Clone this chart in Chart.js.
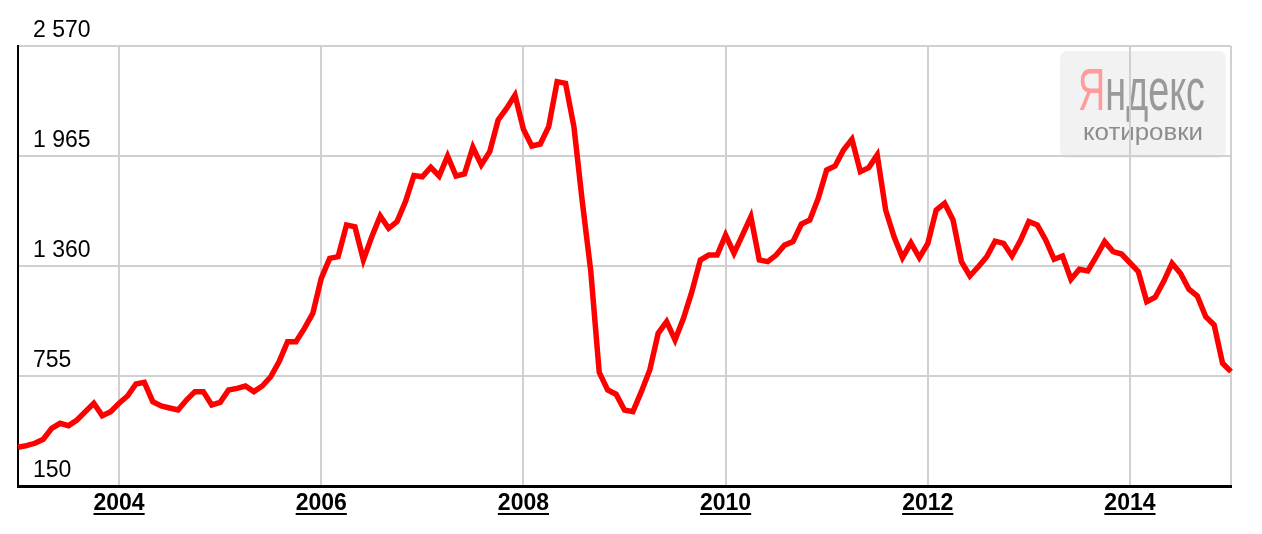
<!DOCTYPE html>
<html>
<head>
<meta charset="utf-8">
<script src="https://cdn.jsdelivr.net/npm/chart.js@4.4.0/dist/chart.umd.min.js"></script>
<style>
  body { margin: 0; background: #fff; }
  #wrap { width: 1262px; height: 534px; }
</style>
</head>
<body>
<div id="wrap"><canvas id="chart"></canvas></div>
<script>
// monthly values, Jan 2003 .. Jan 2015
const years = [2003, 2004, 2005, 2006, 2007, 2008, 2009, 2010, 2011, 2012, 2013, 2014, 2015];
const months = ['01', '02', '03', '04', '05', '06', '07', '08', '09', '10', '11', '12'];

const v2003 = [363, 372, 385, 407, 467, 495, 482, 513, 559, 605, 537, 559];
const v2004 = [605, 645, 711, 720, 614, 590, 579, 568, 623, 669, 669, 596];
const v2005 = [610, 678, 687, 700, 669, 700, 751, 834, 944, 944, 1017, 1100];
const v2006 = [1292, 1402, 1411, 1586, 1576, 1393, 1521, 1635, 1567, 1604, 1714, 1857];
const v2007 = [1851, 1903, 1855, 1965, 1855, 1866, 2013, 1916, 1989, 2163, 2227, 2300];
const v2008 = [2112, 2020, 2031, 2126, 2374, 2365, 2125, 1710, 1330, 775, 678, 655];
const v2009 = [568, 559, 669, 788, 990, 1054, 953, 1072, 1219, 1393, 1420, 1420];
const v2010 = [1530, 1430, 1530, 1631, 1393, 1384, 1420, 1475, 1494, 1591, 1613, 1732];
const v2011 = [1888, 1910, 1998, 2057, 1879, 1901, 1971, 1668, 1521, 1406, 1487, 1406];
const v2012 = [1483, 1668, 1705, 1613, 1384, 1305, 1356, 1411, 1497, 1485, 1415, 1500];
const v2013 = [1604, 1586, 1503, 1397, 1415, 1287, 1342, 1333, 1411, 1494, 1439, 1426];
const v2014 = [1378, 1329, 1164, 1188, 1274, 1375, 1320, 1232, 1195, 1081, 1036, 825];
const v2015 = [779];

const yTicks = [150, 755, 1360, 1965, 2570];
const labeledYears = ['2004', '2006', '2008', '2010', '2012', '2014'];

const series = [v2003, v2004, v2005, v2006, v2007, v2008, v2009, v2010, v2011, v2012, v2013, v2014, v2015];
let labels = [];
let values = [];
series.forEach(function(arr, yi) {
    arr.forEach(function(v, mi) {
        labels.push(years[yi] + '-' + months[mi]);
        values.push(v);
    });
});

const FONT = 'Arial, "Liberation Sans", sans-serif';
Chart.defaults.font.family = FONT;

function fmt(v) {
    return String(v).replace(/\B(?=(\d{3})+(?!\d))/g, ' ');
}

// which january gets a vertical grid line
function hasGrid(label) {
    if (!label || label.slice(5) !== '01') return false;
    const y = label.slice(0, 4);
    return labeledYears.indexOf(y) >= 0 || y === '2015';
}

// grey "Яндекс котировки" box behind the grid
const watermark = {
    id: 'watermark',
    beforeDraw(chart) {
        const ctx = chart.ctx;
        ctx.save();
        ctx.fillStyle = '#f2f2f2';
        ctx.beginPath();
        ctx.roundRect(1060, 51, 166, 107, 7);
        ctx.fill();

        ctx.font = '59px ' + FONT;
        ctx.textBaseline = 'alphabetic';
        const w1 = ctx.measureText('Я').width;
        const wAll = ctx.measureText('Яндекс').width;
        const sx = 127 / wAll;
        ctx.translate(1078, 110);
        ctx.scale(sx, 1);
        ctx.fillStyle = '#ff9b9b';
        ctx.fillText('Я', 0, 0);
        ctx.fillStyle = '#999999';
        ctx.fillText('ндекс', w1, 0);
        ctx.restore();

        ctx.save();
        ctx.font = '24px ' + FONT;
        const w2 = ctx.measureText('котировки').width;
        ctx.translate(1083, 140);
        ctx.scale(120 / w2, 1);
        ctx.fillStyle = '#8c8c8c';
        ctx.fillText('котировки', 0, 0);
        ctx.restore();
    }
};

// underline the year labels
const underline = {
    id: 'underline',
    afterDraw(chart) {
        const xs = chart.scales.x;
        const ctx = chart.ctx;
        ctx.save();
        ctx.font = 'bold 23px ' + FONT;
        ctx.fillStyle = '#000';
        xs.ticks.forEach(function(t, i) {
            if (!t.label) return;
            const x = xs.getPixelForTick(i);
            const w = ctx.measureText(t.label).width;
            ctx.fillRect(x - w / 2, 513, w, 2);
        });
        ctx.restore();
    }
};

new Chart(document.getElementById('chart'), {
    type: 'line',
    data: {
        labels: labels,
        datasets: [{
            data: values,
            borderColor: '#ff0000',
            borderWidth: 5.5,
            pointRadius: 0,
            fill: false,
            tension: 0
        }]
    },
    options: {
        responsive: true,
        maintainAspectRatio: false,
        animation: false,
        layout: { padding: { top: 46, right: 31, left: 0, bottom: 0 } },
        plugins: {
            legend: { display: false },
            tooltip: { enabled: false }
        },
        scales: {
            x: {
                type: 'category',
                offset: false,
                afterFit(s) { s.height = 48; },
                border: { color: '#000', width: 3 },
                grid: {
                    drawTicks: false,
                    lineWidth: 2,
                    color: function(c) {
                        return hasGrid(labels[c.index]) ? '#d0d0d0' : 'rgba(0,0,0,0)';
                    }
                },
                ticks: {
                    autoSkip: false,
                    maxRotation: 0,
                    padding: 4,
                    color: '#000',
                    font: { size: 23, weight: 'bold' },
                    callback: function(value) {
                        const lab = this.getLabelForValue(value);
                        if (lab.slice(5) !== '01') return '';
                        const y = lab.slice(0, 4);
                        return labeledYears.indexOf(y) >= 0 ? y : '';
                    }
                }
            },
            y: {
                min: 150,
                max: 2570,
                afterFit(s) { s.width = 18; },
                afterBuildTicks(s) { s.ticks = yTicks.map(v => ({ value: v })); },
                border: { color: '#000', width: 2 },
                grid: { drawTicks: false, lineWidth: 2, color: '#d0d0d0' },
                ticks: {
                    mirror: true,
                    padding: 15,
                    labelOffset: -15,
                    color: '#000',
                    font: { size: 23 },
                    callback: function(v) { return fmt(v); }
                }
            }
        }
    },
    plugins: [watermark, underline]
});
</script>
</body>
</html>
